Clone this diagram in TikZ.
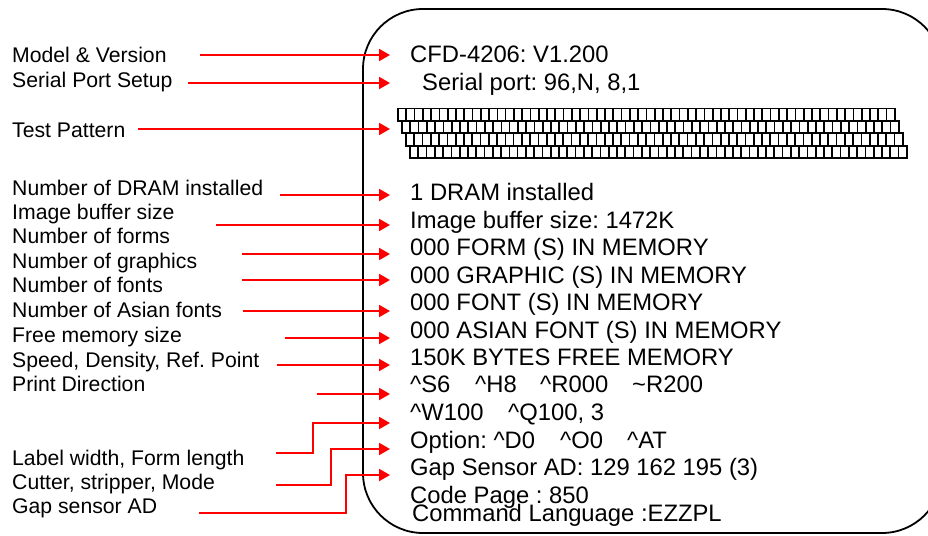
\documentclass[tikz,border=0pt]{standalone}
\usepackage{fontspec}
\setmainfont{Liberation Sans}
\usetikzlibrary{arrows.meta}
\frenchspacing
\begin{document}
\begin{tikzpicture}[x=1pt,y=-1pt,
  lbl/.style={anchor=base west,inner sep=0pt,font=\fontsize{21.2}{24}\selectfont},
  val/.style={anchor=base west,inner sep=0pt,font=\fontsize{23.8}{27}\selectfont},
  arr/.style={draw=red,line width=2pt,-{Triangle[length=11pt,width=12pt]}},
  cellrow/.style={line width=1.7pt}]
\useasboundingbox (0,0) rectangle (928,535);
\clip (0,0) rectangle (928,535);
% outer printout box
\draw[line width=1.8pt,rounded corners=60pt] (363,9) rectangle (942,533);
% left labels
\node[lbl] (l1)  at (12,63)  {Model \& Version};
\node[lbl] (l2)  at (12,87)  {Serial Port Setup};
\node[lbl] (l3)  at (12,137) {Test Pattern};
\node[lbl] (l4)  at (12,195) {Number of DRAM installed};
\node[lbl] (l5)  at (12,219) {Image buffer size};
\node[lbl] (l6)  at (12,243) {Number of forms};
\node[lbl] (l7)  at (12,268) {Number of graphics};
\node[lbl] (l8)  at (12,292) {Number of fonts};
\node[lbl] (l9)  at (12,317) {Number of Asian fonts};
\node[lbl] (l10) at (12,342) {Free memory size};
\node[lbl] (l11) at (12,367) {Speed, Density, Ref. Point};
\node[lbl] (l12) at (12,391) {Print Direction};
\node[lbl] (l13) at (12,465) {Label width, Form length};
\node[lbl] (l14) at (12,489) {Cutter, stripper, Mode};
\node[lbl] (l15) at (12,513) {Gap sensor AD};
% right values
\node[val] (r1)  at (410,63)  {CFD-4206: V1.200};
\node[val] (r2)  at (422,90)  {Serial port: 96,N, 8,1};
\node[val] (r4)  at (410,200) {1 DRAM installed};
\node[val] (r5)  at (410,228) {Image buffer size: 1472K};
\node[val] (r6)  at (410,255) {000 FORM (S) IN MEMORY};
\node[val] (r7)  at (410,283) {000 GRAPHIC (S) IN MEMORY};
\node[val] (r8)  at (410,310) {000 FONT (S) IN MEMORY};
\node[val] (r9)  at (410,338) {000 ASIAN FONT (S) IN MEMORY};
\node[val] (r10) at (410,365) {150K BYTES FREE MEMORY};
\node[val] (r11a) at (410,392) {\textasciicircum S6};
\node[val] (r11b) at (475,392) {\textasciicircum H8};
\node[val] (r11c) at (540,392) {\textasciicircum R000};
\node[val] (r11d) at (632,392) {\textasciitilde R200};
\node[val] (r12a) at (410,420) {\textasciicircum W100};
\node[val] (r12b) at (508,420) {\textasciicircum Q100, 3};
\node[val] (r13a) at (410,448) {Option: \textasciicircum D0};
\node[val] (r13b) at (560,448) {\textasciicircum O0};
\node[val] (r13c) at (627,448) {\textasciicircum AT};
\node[val] (r14) at (410,475) {Gap Sensor AD: 129 162 195 (3)};
\node[val] (r15) at (410,503) {Code Page : 850};
\node[val] (r16) at (412,521) {Command Language :EZZPL};
% test pattern
\foreach \r in {0,1,2,3}{
  \pgfmathsetmacro{\xo}{398+4*\r}
  \pgfmathsetmacro{\yo}{108.5+12.4*\r}
  \foreach \c in {0,...,59}{
    \draw[cellrow] ({\xo+8.28*\c},\yo) rectangle ({\xo+8.28*(\c+1)},{\yo+12.4});
  }
}
% arrow start / end coordinates
\coordinate (s1) at (200,55);  \coordinate (e1) at (390,55);
\coordinate (s2) at (188,83);  \coordinate (e2) at (390,83);
\coordinate (s3) at (138,129); \coordinate (e3) at (390,129);
\coordinate (s4) at (280,195); \coordinate (e4) at (390,195);
\coordinate (s5) at (216,225); \coordinate (e5) at (390,225);
\coordinate (s6) at (242,254); \coordinate (e6) at (390,254);
\coordinate (s7) at (242,280); \coordinate (e7) at (390,280);
\coordinate (s8) at (243,311); \coordinate (e8) at (390,311);
\coordinate (s9) at (285,338); \coordinate (e9) at (390,338);
\coordinate (s10) at (277,365); \coordinate (e10) at (390,365);
\coordinate (s11) at (317,394); \coordinate (e11) at (390,394);
\coordinate (s12) at (276,453); \coordinate (e12) at (390,423);
\coordinate (s13) at (276,485); \coordinate (e13) at (390,449);
\coordinate (s14) at (199,513); \coordinate (e14) at (390,475);
\foreach \i in {1,...,11}{
  \draw[arr] (s\i) -- (e\i);
}
\draw[arr] (s12) -- (313,453) |- (e12);
\draw[arr] (s13) -- (331,485) |- (e13);
\draw[arr] (s14) -- (346,513) |- (e14);
\end{tikzpicture}
\end{document}
